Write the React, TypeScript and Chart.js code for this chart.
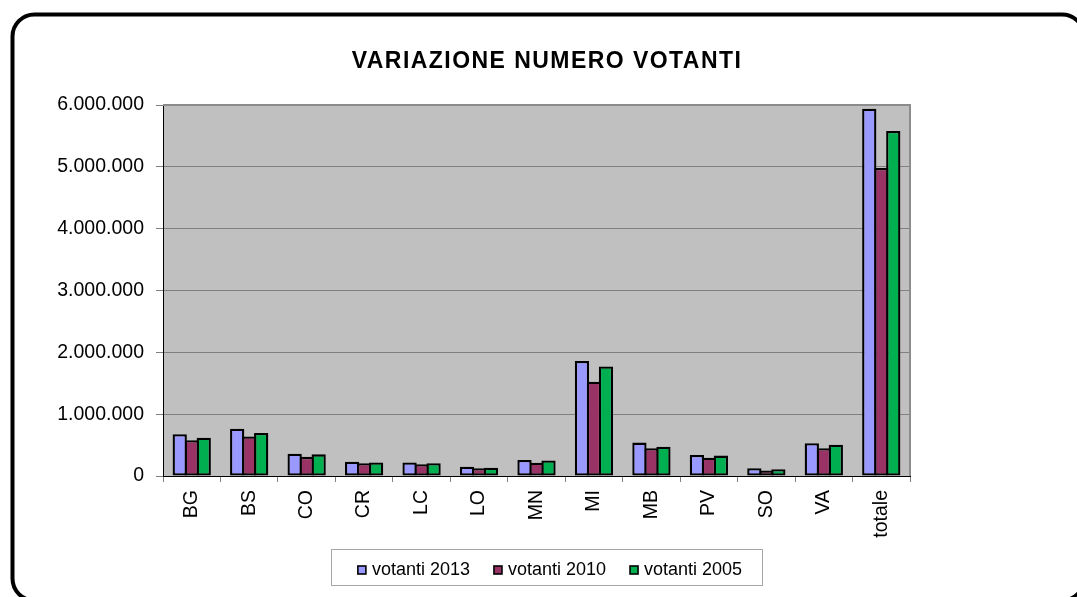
import { useEffect, useRef } from 'react';
import { Chart, registerables } from 'chart.js';

Chart.register(...registerables);

const TITLE = 'VARIAZIONE NUMERO VOTANTI';
const CATEGORIES = ['BG', 'BS', 'CO', 'CR', 'LC', 'LO', 'MN', 'MI', 'MB', 'PV', 'SO', 'VA', 'totale'];
const SERIES_LABELS = ['votanti 2013', 'votanti 2010', 'votanti 2005'];
const VOTANTI_2013 = [675000, 765000, 360000, 230000, 220000, 150000, 260000, 1860000, 540000, 340000, 125000, 530000, 5940000];
const VOTANTI_2010 = [580000, 640000, 310000, 205000, 190000, 125000, 215000, 1525000, 450000, 295000, 90000, 450000, 4980000];
const VOTANTI_2005 = [620000, 695000, 350000, 220000, 205000, 135000, 250000, 1770000, 475000, 330000, 110000, 505000, 5580000];
const Y_TICK_LABELS = ['0', '1.000.000', '2.000.000', '3.000.000', '4.000.000', '5.000.000', '6.000.000'];
const SERIES_COLORS = ['#9999FF', '#993366', '#00B050'];

const FONT = "'Liberation Sans', Arial, sans-serif";

const decorPlugin = {
  id: 'decor',
  beforeDraw(chart: any) {
    const { ctx, chartArea: a, width, height } = chart;
    ctx.save();
    ctx.fillStyle = '#ffffff';
    ctx.fillRect(0, 0, width, height);
    ctx.fillStyle = '#C0C0C0';
    ctx.fillRect(a.left, a.top, a.right - a.left, a.bottom - a.top);
    ctx.restore();
  },
  beforeDatasetsDraw(chart: any) {
    const { ctx, chartArea: a } = chart;
    ctx.save();
    ctx.strokeStyle = '#8C8C8C';
    ctx.lineWidth = 2;
    ctx.beginPath();
    ctx.moveTo(a.left, a.top);
    ctx.lineTo(a.right, a.top);
    ctx.lineTo(a.right, a.bottom);
    ctx.stroke();
    ctx.restore();
  },
  afterDraw(chart: any) {
    const { ctx } = chart;
    ctx.save();
    // title
    ctx.fillStyle = '#000';
    ctx.font = `bold 23px ${FONT}`;
    (ctx as any).letterSpacing = '1.45px';
    ctx.textAlign = 'center';
    ctx.textBaseline = 'alphabetic';
    ctx.fillText(TITLE, 547, 68);
    (ctx as any).letterSpacing = '0px';

    // legend box
    const bx = 331.5, by = 549.5, bw = 431, bh = 36;
    ctx.strokeStyle = '#A6A6A6';
    ctx.lineWidth = 1;
    ctx.strokeRect(bx, by, bw, bh);
    ctx.font = `18px ${FONT}`;
    ctx.textAlign = 'left';
    const marker = 8, gapText = 6, gapItem = 24;
    const datasets = chart.data.datasets;
    const widths = datasets.map((d: any) => marker + gapText + ctx.measureText(d.label).width);
    const total = widths.reduce((s: number, w: number) => s + w, 0) + gapItem * (datasets.length - 1);
    let x = bx + bw / 2 - total / 2 + 3;
    datasets.forEach((d: any, i: number) => {
      ctx.fillStyle = d.backgroundColor;
      ctx.fillRect(x, 566, marker, marker);
      ctx.strokeStyle = '#000';
      ctx.lineWidth = 1.6;
      ctx.strokeRect(x, 566, marker, marker);
      ctx.fillStyle = '#000';
      ctx.fillText(d.label, x + marker + gapText, 574.5);
      x += widths[i] + gapItem;
    });

    // outer rounded frame
    ctx.strokeStyle = '#000';
    ctx.lineWidth = 4;
    ctx.beginPath();
    (ctx as any).roundRect(12.5, 14.5, 1071.5, 586, 22);
    ctx.stroke();
    ctx.restore();
  },
};

export default function App() {
  const ref = useRef<HTMLCanvasElement | null>(null);

  useEffect(() => {
    if (!ref.current) return;
    const border = 2.3;
    const common = {
      borderColor: '#000000',
      borderWidth: border,
      borderSkipped: false,
      categoryPercentage: 0.6265,
      barPercentage: 1.19,
    };
    const chart = new Chart(ref.current, {
      type: 'bar',
      data: {
        labels: CATEGORIES,
        datasets: [
          { label: SERIES_LABELS[0], data: VOTANTI_2013, backgroundColor: SERIES_COLORS[0], ...common },
          { label: SERIES_LABELS[1], data: VOTANTI_2010, backgroundColor: SERIES_COLORS[1], ...common },
          { label: SERIES_LABELS[2], data: VOTANTI_2005, backgroundColor: SERIES_COLORS[2], ...common },
        ],
      } as any,
      options: {
        responsive: false,
        animation: false,
        devicePixelRatio: 1,
        layout: { padding: { top: 105, right: 167, bottom: 41, left: 0 } },
        plugins: {
          legend: { display: false },
          title: { display: false },
          tooltip: { enabled: false },
        },
        scales: {
          x: {
            grid: { offset: true, drawOnChartArea: false, drawTicks: true, tickLength: 6, color: '#808080' },
            border: { color: '#000000', width: 1 },
            ticks: {
              autoSkip: false,
              maxRotation: 90,
              minRotation: 90,
              padding: 8,
              color: '#000',
              font: { family: FONT, size: 19.5 },
            },
            afterFit(scale: any) {
              scale.height = 80;
            },
          },
          y: {
            min: 0,
            max: 6000000,
            ticks: {
              stepSize: 1000000,
              padding: 12,
              color: '#000',
              font: { family: FONT, size: 19.5 },
              callback: (_v: any, i: number) => Y_TICK_LABELS[i],
            },
            grid: { color: '#808080', lineWidth: 1, tickLength: 7, drawTicks: true },
            border: { color: '#000000', width: 1 },
            afterFit(scale: any) {
              scale.width = 163;
            },
          },
        },
      } as any,
      plugins: [decorPlugin],
    });
    return () => chart.destroy();
  }, []);

  return (
    <div style={{ position: 'fixed', left: 0, top: 0, width: 1077, height: 597, background: '#fff' }}>
      <canvas ref={ref} width={1077} height={597} style={{ display: 'block' }} />
    </div>
  );
}
